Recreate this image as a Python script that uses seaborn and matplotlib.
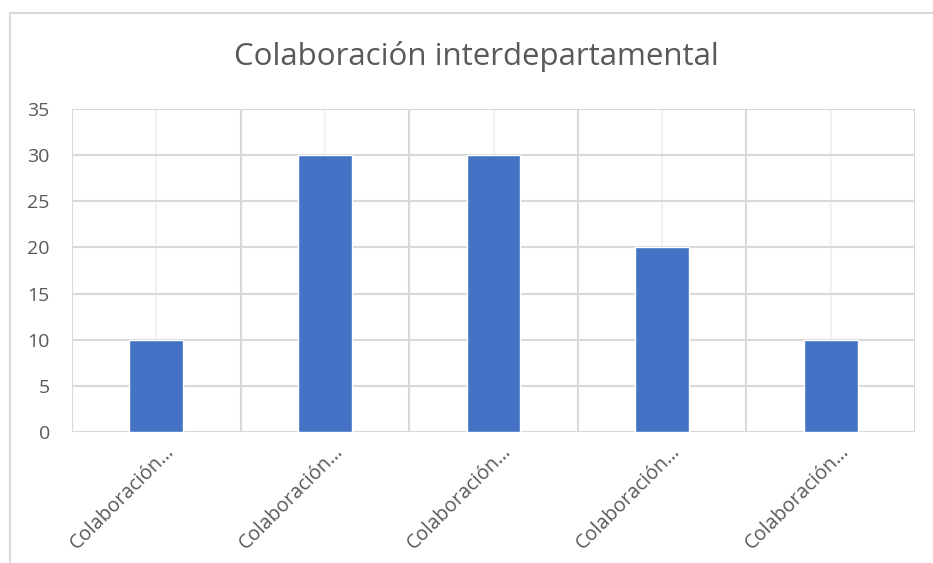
import matplotlib
matplotlib.use("Agg")
import matplotlib.pyplot as plt
import matplotlib.transforms as mtransforms
import seaborn as sns
import pandas as pd
import numpy as np
from matplotlib.patches import Rectangle

categories = ["C1", "C2", "C3", "C4", "C5"]
values = [10, 30, 30, 20, 10]
tick_labels = ["Colaboración…"] * 5
y_ticks = [0, 5, 10, 15, 20, 25, 30, 35]
title = "Colaboración interdepartamental"

sns.set_theme(style="white")
plt.rcParams['font.family'] = ['Open Sans', 'DejaVu Sans']

W, H = 933, 563
fig = plt.figure(figsize=(W / 100, H / 100), dpi=100)
ax = fig.add_axes([72 / W, 1 - 432 / H, (915 - 72) / W, (432 - 109) / H])

df = pd.DataFrame({"cat": categories, "val": values})
sns.barplot(data=df, x="cat", y="val", order=categories, color="#4472C4",
            width=0.32, saturation=1, ax=ax, zorder=3)

ax.set_xlim(-0.5, len(categories) - 0.5)
ax.set_ylim(0, 35)
ax.set_yticks(y_ticks)
ax.set_yticklabels([str(v) for v in y_ticks], color="#595959", fontsize=14)
ax.set_xticks(np.arange(len(categories)))
ax.set_xticklabels(tick_labels, rotation=45, ha="right", rotation_mode="anchor",
                   color="#595959", fontsize=14.3)
ax.set_xlabel("")
ax.set_ylabel("")
ax.tick_params(axis="both", length=0)
ax.tick_params(axis="y", pad=16)
ax.tick_params(axis="x", pad=7)

offset = mtransforms.ScaledTranslation(8 / 100, 0, fig.dpi_scale_trans)
for lbl in ax.get_xticklabels():
    lbl.set_transform(lbl.get_transform() + offset)

# gridlines
ax.set_xticks(np.arange(-0.5, len(categories) + 0.5, 1.0), minor=True)
ax.grid(axis="y", which="major", color="#D9D9D9", linewidth=1.5, zorder=1)
ax.grid(axis="x", which="minor", color="#D9D9D9", linewidth=1.5, zorder=1)
ax.grid(axis="x", which="major", color="#F2F2F2", linewidth=1.5, zorder=1)
ax.tick_params(axis="x", which="minor", length=0)
for s in ax.spines.values():
    s.set_visible(False)

fig.text(476 / W, 1 - 57 / H, title, ha="center", va="center",
         fontsize=22.5, color="#595959")

fig.patches.append(Rectangle((10 / W, -0.1), 1.2, 1 - 13 / H + 0.1,
                             transform=fig.transFigure, fill=False,
                             edgecolor="#D9D9D9", linewidth=1.5, zorder=0))

fig.savefig("out.png", dpi=100, facecolor="white")
